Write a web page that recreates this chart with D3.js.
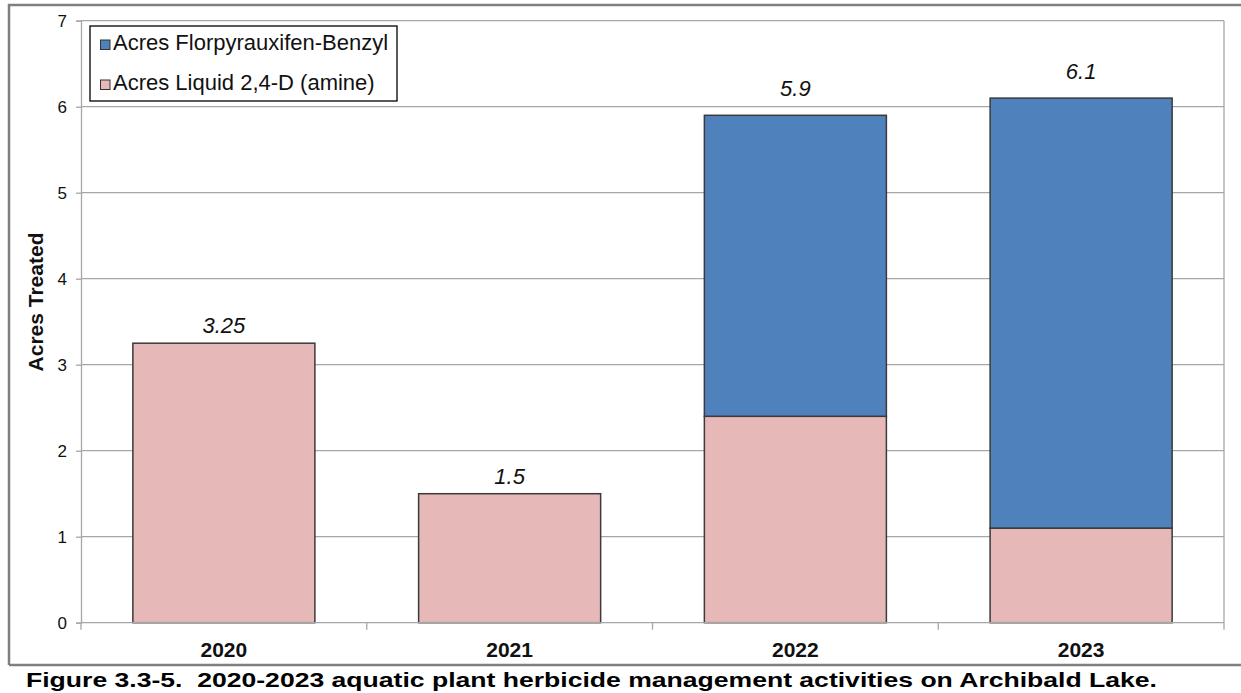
<!DOCTYPE html>
<html>
<head>
<meta charset="utf-8">
<script src="https://cdn.jsdelivr.net/npm/d3@7"></script>
<style>
  html, body { margin: 0; padding: 0; background: #fff; }
  svg { display: block; font-family: "Liberation Sans", Arial, sans-serif; }
</style>
</head>
<body>
<svg id="chart" width="1241" height="693"></svg>
<script>
// Herbicide acreage treated per year, stacked by product
const years = ["2020", "2021", "2022", "2023"];
const liquid24D = [3.25, 1.5, 2.4, 1.1];
const florpyrauxifen = [0, 0, 3.5, 5.0];
const totalLabels = ["3.25", "1.5", "5.9", "6.1"];
const totals = [3.25, 1.5, 5.9, 6.1];
const yTicks = [0, 1, 2, 3, 4, 5, 6, 7];
const seriesNames = ["Acres Florpyrauxifen-Benzyl", "Acres Liquid 2,4-D (amine)"];
const captionText = "Figure 3.3-5.\u00a0 2020-2023 aquatic plant herbicide management activities on Archibald Lake.";

const colors = { flor: "#4f81bd", liquid: "#e6b9b8" };
const svg = d3.select("#chart");

const plot = { left: 81, right: 1224, top: 20.7, bottom: 622.7 };

const x = d3.scaleBand().domain(years).range([plot.left, plot.right])
  .paddingInner(0.363).paddingOuter(0.1815);
const y = d3.scaleLinear().domain([0, 7]).range([plot.bottom, plot.top]);

// outer frame (left, top, and separator above the caption)
svg.append("path")
  .attr("d", "M9,665 L9,5 L1245,5 M9,665 L1245,665")
  .attr("fill", "none").attr("stroke", "#7f7f7f").attr("stroke-width", 2.5);

// horizontal gridlines
svg.append("g").selectAll("line").data(yTicks.filter(d => d > 0)).join("line")
  .attr("x1", plot.left).attr("x2", plot.right)
  .attr("y1", d => y(d)).attr("y2", d => y(d))
  .attr("stroke", "#a6a6a6").attr("stroke-width", 1.3);

// right plot edge
svg.append("line")
  .attr("x1", plot.right).attr("x2", plot.right)
  .attr("y1", plot.top).attr("y2", plot.bottom)
  .attr("stroke", "#a6a6a6").attr("stroke-width", 1.3);

// stacked bars
const stackData = years.map((yr, i) => ({ year: yr, liquid: liquid24D[i], flor: florpyrauxifen[i] }));
const stacked = d3.stack().keys(["liquid", "flor"])(stackData);
svg.append("g").selectAll("g").data(stacked).join("g")
  .attr("fill", d => colors[d.key])
  .selectAll("rect").data(d => d.filter(s => s[1] - s[0] > 0)).join("rect")
  .attr("x", d => x(d.data.year))
  .attr("width", x.bandwidth())
  .attr("y", d => y(d[1]))
  .attr("height", d => y(d[0]) - y(d[1]))
  .attr("stroke", "#3a3a3a").attr("stroke-width", 1.5);

// y axis
const yAxis = d3.axisLeft(y).tickValues(yTicks).tickSize(5).tickPadding(9).tickFormat(d3.format("d"));
const gy = svg.append("g").attr("transform", `translate(${plot.left},0)`).call(yAxis);
gy.select(".domain").attr("stroke", "#a6a6a6").attr("stroke-width", 1.3);
gy.selectAll(".tick line").attr("stroke", "#a6a6a6").attr("stroke-width", 1.3);
gy.selectAll(".tick text").attr("font-size", 17).attr("fill", "#111")
  .attr("font-family", "Liberation Sans, Arial, sans-serif");

// x axis: baseline plus ticks at category boundaries
svg.append("line")
  .attr("x1", plot.left).attr("x2", plot.right)
  .attr("y1", plot.bottom).attr("y2", plot.bottom)
  .attr("stroke", "#a6a6a6").attr("stroke-width", 1.3);
const step = x.step();
const boundaries = d3.range(years.length + 1).map(i => plot.left + i * step);
svg.append("g").selectAll("line").data(boundaries).join("line")
  .attr("x1", d => d).attr("x2", d => d)
  .attr("y1", plot.bottom).attr("y2", plot.bottom + 7)
  .attr("stroke", "#a6a6a6").attr("stroke-width", 1.3);
svg.append("g").selectAll("text").data(years).join("text")
  .attr("x", d => x(d) + x.bandwidth() / 2)
  .attr("y", 657)
  .attr("text-anchor", "middle")
  .attr("font-size", 21).attr("font-weight", "bold").attr("fill", "#111")
  .text(d => d);

// total value labels above each column
svg.append("g").selectAll("text").data(years).join("text")
  .attr("x", d => x(d) + x.bandwidth() / 2)
  .attr("y", (d, i) => y(totals[i]) - (florpyrauxifen[i] > 0 ? 19 : 10))
  .attr("text-anchor", "middle")
  .attr("font-size", 22).attr("font-style", "italic").attr("fill", "#111")
  .text((d, i) => totalLabels[i]);

// y axis title
svg.append("text")
  .attr("transform", "translate(43,302) rotate(-90)")
  .attr("text-anchor", "middle")
  .attr("font-size", 21).attr("font-weight", "bold").attr("fill", "#111")
  .text("Acres Treated");

// legend
const legend = svg.append("g");
legend.append("rect")
  .attr("x", 90).attr("y", 26).attr("width", 307).attr("height", 75)
  .attr("fill", "#fff").attr("stroke", "#000").attr("stroke-width", 1.3);
const legendItems = [
  { name: seriesNames[0], color: colors.flor },
  { name: seriesNames[1], color: colors.liquid }
];
const li = legend.selectAll("g.item").data(legendItems).join("g")
  .attr("class", "item")
  .attr("transform", (d, i) => `translate(100,${50 + i * 40})`);
li.append("rect")
  .attr("x", 0.5).attr("y", -10).attr("width", 9.5).attr("height", 9.5)
  .attr("fill", d => d.color).attr("stroke", "#333").attr("stroke-width", 1);
li.append("text")
  .attr("x", 13).attr("y", 0)
  .attr("font-size", 22).attr("fill", "#111")
  .text(d => d.name);

// caption, set in a wide bold face across the full figure width
svg.append("text")
  .attr("x", 26).attr("y", 687)
  .attr("font-size", 21).attr("font-weight", "bold").attr("fill", "#000")
  .attr("textLength", 1131).attr("lengthAdjust", "spacingAndGlyphs")
  .text(captionText);
</script>
</body>
</html>
